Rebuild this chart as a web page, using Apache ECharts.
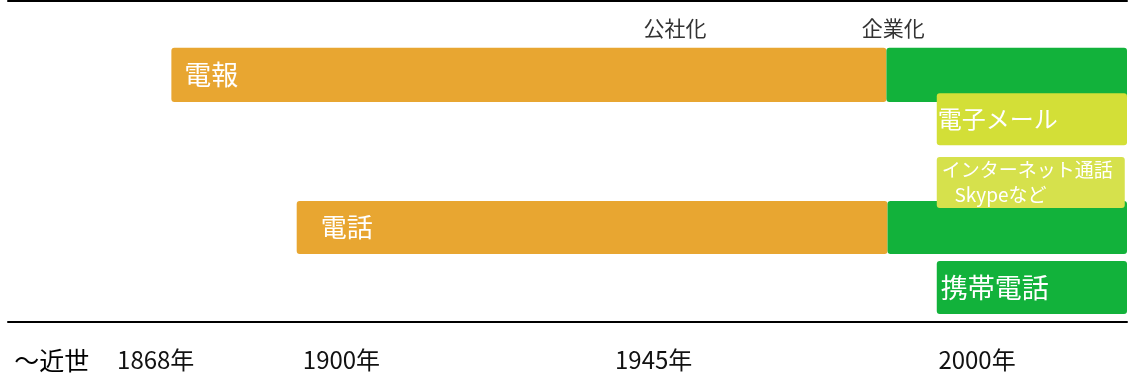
<!DOCTYPE html>
<html>
<head>
<meta charset="utf-8">
<script src="https://cdn.jsdelivr.net/npm/echarts@6/dist/echarts.min.js"></script>
<style>
  html, body { margin: 0; padding: 0; background: #ffffff; }
  #chart { width: 1132px; height: 378px; }
</style>
</head>
<body>
<div id="chart"></div>
<script>
// Timeline of Japanese telecommunication services.
// Positions run along a 0–100 timeline scale; rows sit on a 0–10 lane scale.

// Era ticks along the timeline
const eraLabels = ['〜近世', '1868年', '1900年', '1945年', '2000年'];
const eraPositions = [3.9, 13.2, 29.8, 57.7, 86.6];

// Service periods (one entry per coloured block)
const periodNames = ['電報', '', '電話', '', '電子メール', 'インターネット通話\n   Skypeなど', '携帯電話'];
const periodKinds = ['state', 'corporate', 'state', 'corporate', 'net', 'netLight', 'corporate'];
const periodStart = [14.6, 78.5, 25.8, 78.6, 83.0, 83.0, 83.0];
const periodEnd   = [78.5, 100, 78.6, 100, 100, 99.8, 100];
const periodLow   = [6.85, 6.85, 2.12, 2.12, 5.51, 3.55, 0.25];
const periodHigh  = [8.54, 8.54, 3.77, 3.77, 7.13, 5.14, 1.90];

// Organisational milestones written above the telegraph row
const milestoneNames = ['公社化', '企業化'];
const milestonePositions = [59.6, 79.1];

const FONT = '"Noto Sans CJK JP", "Noto Sans", sans-serif';
const kindColors = {
  state: '#E8A631',
  corporate: '#12B23B',
  net: '#D3DF37',
  netLight: '#D6E14C'
};
const labelStyle = [
  { size: 27, inset: 13 },
  null,
  { size: 26, inset: 24 },
  null,
  { size: 24, inset: 1 },
  { size: 19, inset: 5, lineHeight: 25 },
  { size: 27, inset: 4 }
];
const milestoneLane = 9.16;

const periodData = periodStart.map((s, i) => [s, periodEnd[i], periodLow[i], periodHigh[i], i]);
const milestoneData = milestonePositions.map((p, i) => [p, milestoneLane, i]);

function renderPeriod(params, api) {
  const i = api.value(4);
  const topLeft = api.coord([api.value(0), api.value(3)]);
  const bottomRight = api.coord([api.value(1), api.value(2)]);
  const el = {
    type: 'rect',
    shape: {
      x: topLeft[0],
      y: topLeft[1],
      width: bottomRight[0] - topLeft[0],
      height: bottomRight[1] - topLeft[1],
      r: 3
    },
    style: { fill: kindColors[periodKinds[i]] }
  };
  const ls = labelStyle[i];
  if (periodNames[i] && ls) {
    el.textContent = {
      style: {
        text: periodNames[i],
        fill: '#ffffff',
        fontFamily: FONT,
        fontSize: ls.size,
        lineHeight: ls.lineHeight || ls.size + 4,
        align: 'left'
      }
    };
    el.textConfig = { position: 'insideLeft', distance: ls.inset };
  }
  return el;
}

function renderMilestone(params, api) {
  const p = api.coord([api.value(0), api.value(1)]);
  return {
    type: 'text',
    x: p[0],
    y: p[1],
    style: {
      text: milestoneNames[api.value(2)],
      fill: '#333333',
      fontFamily: FONT,
      fontSize: 21,
      align: 'center',
      verticalAlign: 'middle'
    }
  };
}

function eraIndex(v) {
  let best = 0;
  eraPositions.forEach((p, i) => {
    if (Math.abs(p - v) < Math.abs(eraPositions[best] - v)) best = i;
  });
  return best;
}

const chart = echarts.init(document.getElementById('chart'), null, { renderer: 'canvas' });
chart.setOption({
  animation: false,
  backgroundColor: '#ffffff',
  grid: { left: 8, right: 5, top: 1, bottom: 56 },
  xAxis: [
    {
      type: 'value',
      position: 'bottom',
      min: 0,
      max: 100,
      axisLine: { show: true, lineStyle: { color: '#000000', width: 2 } },
      axisTick: { show: false },
      splitLine: { show: false },
      axisLabel: {
        customValues: eraPositions,
        formatter: function (v) {
          const i = eraIndex(v);
          return i === 0 ? '{lead|' + eraLabels[i] + '}' : eraLabels[i];
        },
        margin: 38,
        verticalAlign: 'middle',
        color: '#111111',
        fontFamily: FONT,
        fontSize: 24,
        rich: {
          lead: {
            fontFamily: FONT,
            fontSize: 25,
            color: '#000000'
          }
        }
      }
    },
    {
      type: 'value',
      position: 'top',
      min: 0,
      max: 100,
      axisLine: { show: true, lineStyle: { color: '#000000', width: 2 } },
      axisTick: { show: false },
      axisLabel: { show: false },
      splitLine: { show: false }
    }
  ],
  yAxis: {
    type: 'value',
    min: 0,
    max: 10,
    show: false
  },
  series: [
    {
      type: 'custom',
      renderItem: renderPeriod,
      data: periodData,
      encode: { x: [0, 1], y: [2, 3] }
    },
    {
      type: 'custom',
      renderItem: renderMilestone,
      data: milestoneData,
      encode: { x: 0, y: 1 }
    }
  ]
});
</script>
</body>
</html>
